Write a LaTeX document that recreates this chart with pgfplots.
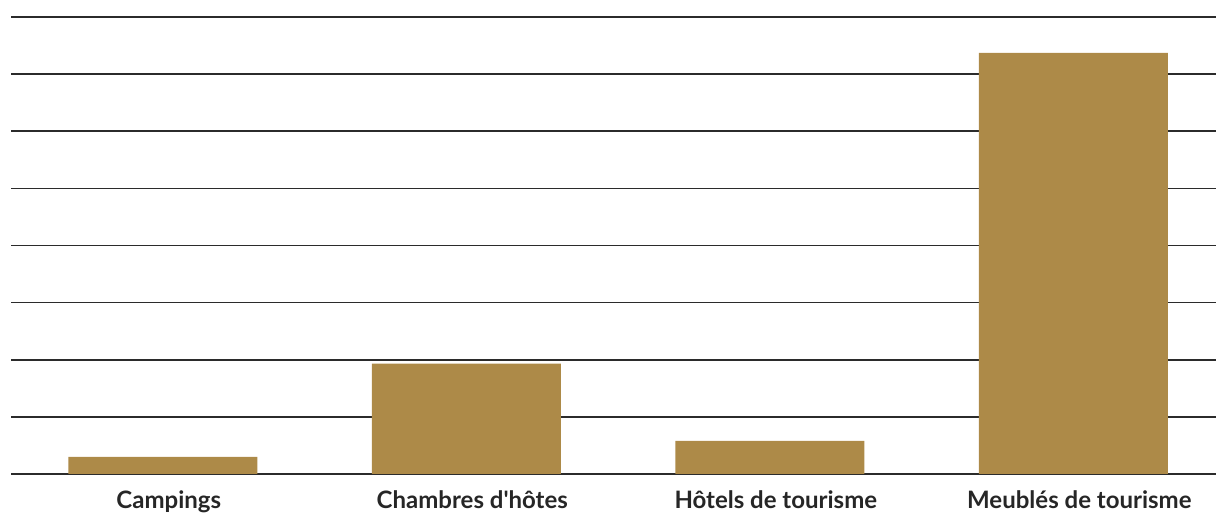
\documentclass[border=0pt]{standalone}
\usepackage{pgfplots}
\pgfplotsset{compat=1.18}
\usepackage{fontspec}
\setmainfont{Lato}[Ligatures=TeXOff]
\definecolor{bargold}{HTML}{AD8A48}
\definecolor{gridgray}{HTML}{2B2B2B}

\begin{document}
\begin{tikzpicture}
\begin{axis}[
    name=ax,
    scale only axis,
    width=602.5pt, height=228.5pt,
    xmin=-0.5, xmax=3.47,
    ymin=0, ymax=8,
    axis line style={draw=none},
    tick style={draw=none},
    ybar, bar width=94.5pt,
    xtick=data,
    xticklabels={Campings, Chambres d'hôtes, Hôtels de tourisme, Meublés de tourisme},
    ytick={0,1,...,8},
    yticklabels={},
    major tick length=0pt,
    ymajorgrids,
    grid style={draw=gridgray, line width=0.8pt},
    xticklabel style={font=\bfseries\fontsize{12}{14}\selectfont, text=black!85, yshift=-5pt, xshift=3pt},
]
    % nombre d'hébergements (échelle lue sur la grille)
    \addplot[fill=bargold, draw=none] coordinates {
        (0, 0.30)
        (1, 1.93)
        (2, 0.58)
        (3, 7.37)
    };
\end{axis}
\pgfresetboundingbox
\useasboundingbox ([xshift=-5.5pt, yshift=-19.5pt]ax.south west) rectangle ([yshift=8.5pt]ax.north east);
\end{tikzpicture}
\end{document}
